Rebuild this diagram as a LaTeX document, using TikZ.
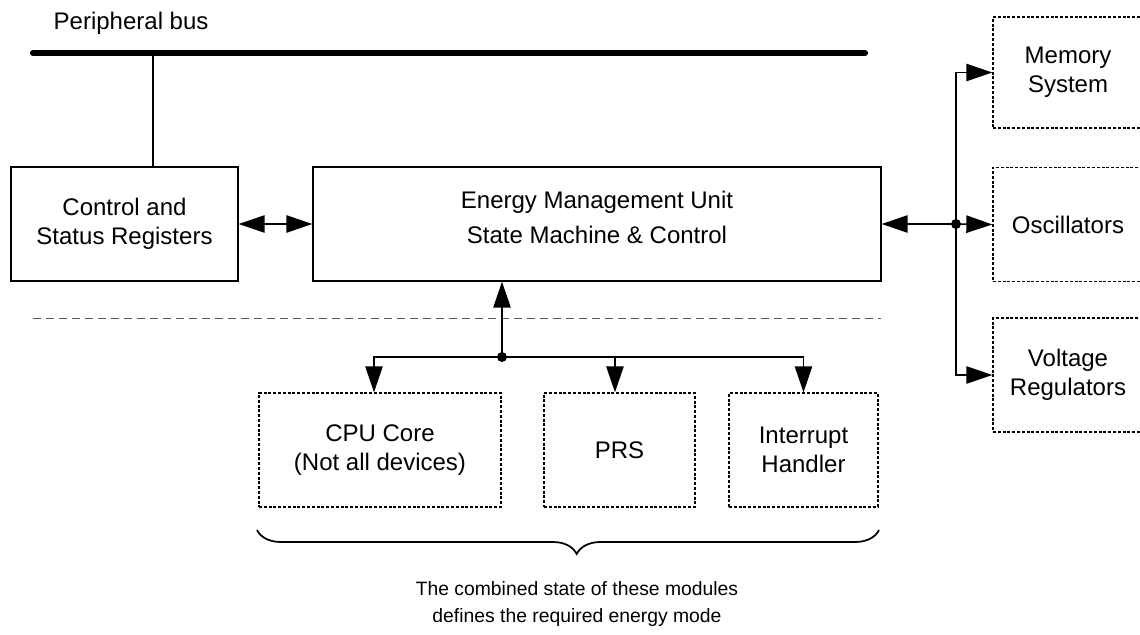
\documentclass[tikz,border=0pt]{standalone}
\usepackage{fontspec}
\setmainfont{Liberation Sans}
\usetikzlibrary{arrows.meta,decorations.pathreplacing}

\begin{document}
\begin{tikzpicture}[x=0.75pt,y=-0.75pt,
  >={Triangle[length=19.5pt,width=13pt]},
  blocco/.style={draw,line width=1pt,minimum height=85.5pt,align=center,
    font=\fontsize{18}{21.75}\selectfont},
  modulo/.style={blocco,dash pattern=on 2.2pt off 1.4pt},
  filo/.style={line width=1.1pt},
  nodo/.style={circle,fill,inner sep=0pt,minimum size=7.5pt}]

\useasboundingbox (0,0) rectangle (1140,635);

% --- Bus periferico ---
\draw[line width=4.6pt,line cap=round] (33,53) coordinate (busL) -- (865,53) coordinate (busR);
\node[anchor=west,font=\fontsize{18}{21.75}\selectfont] (buslbl) at (49,23) {Peripheral bus};
\coordinate (tap) at (153,53);

% --- Blocchi principali ---
\node[blocco,minimum width=170.25pt] (csr) at (124.5,224) {Control and\\Status Registers};
\node[blocco,minimum width=426pt] (emu) at (597,224) {};
\node[align=center,font=\fontsize{18}{21.75}\selectfont] (emutxt) at (597,217.5)
  {Energy Management Unit\\[4.5pt]State Machine \& Control};
\draw[line width=1pt] (tap) -- (tap |- csr.north);

% --- Moduli a destra ---
\node[modulo,minimum width=112.5pt,minimum height=83.25pt] (mem) at (1068,72.5) {Memory\\System};
\node[modulo,minimum width=112.5pt] (osc) at (1068,224.5) {Oscillators};
\node[modulo,minimum width=112.5pt] (vreg) at (1068,375) {Voltage\\Regulators};

% --- Moduli in basso ---
\node[modulo,minimum width=181.5pt] (cpu) at (380,450) {CPU Core\\(Not all devices)};
\node[modulo,minimum width=113.25pt] (prs) at (619.5,450) {PRS};
\node[modulo,minimum width=111.75pt] (irq) at (803.5,450) {Interrupt\\Handler};

% --- Linea di separazione ---
\draw[line width=0.7pt,gray!70!black,dash pattern=on 6pt off 3.75pt] (33,318) -- (881,318);

% --- Collegamenti ---
\draw[filo,<->] (csr) -- (emu);

\node[nodo] (jr) at (956,224) {};
\draw[filo,->] (jr.center) -- (emu.east);
\draw[filo,->] (jr.center) -- (osc.west);
\draw[filo,->] (jr.center) |- (mem.west);
\draw[filo,->] (jr.center) |- (vreg.west);

\node[nodo] (jb) at (502,357) {};
\draw[filo,->] (jb.center) -- (jb.center |- emu.south);
\draw[filo,->] (jb.center) -| ([xshift=-4.5pt]cpu.north);
\draw[filo,->] (jb.center) -| ([xshift=-3.4pt]prs.north);
\draw[filo,->] (jb.center) -| (irq.north);

% --- Graffa e nota ---
\draw[line width=1.3pt,decorate,decoration={brace,mirror,amplitude=18pt,aspect=0.514}] (257,530) -- (879,530);
\node[align=center,font=\fontsize{14.5}{20.25}\selectfont] (nota) at (577,604)
  {The combined state of these modules\\defines the required energy mode};

\end{tikzpicture}
\end{document}
